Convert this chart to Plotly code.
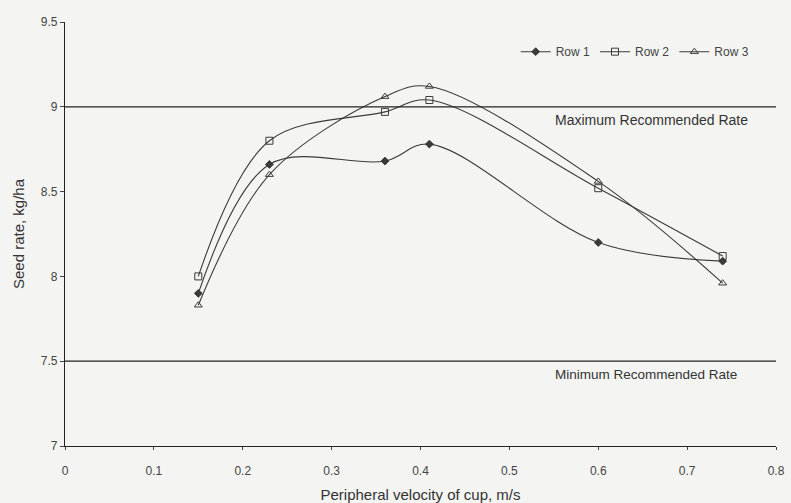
import plotly.graph_objects as go

x_row1 = [0.15, 0.23, 0.36, 0.41, 0.60, 0.74]
y_row1 = [7.90, 8.66, 8.68, 8.78, 8.20, 8.09]
x_row2 = [0.15, 0.23, 0.36, 0.41, 0.60, 0.74]
y_row2 = [8.00, 8.80, 8.97, 9.04, 8.52, 8.12]
x_row3 = [0.15, 0.23, 0.36, 0.41, 0.60, 0.74]
y_row3 = [7.83, 8.60, 9.06, 9.12, 8.56, 7.96]
series_names = ["Row 1", "Row 2", "Row 3"]
max_rate = 9.0
min_rate = 7.5
x_ticks = [0, 0.1, 0.2, 0.3, 0.4, 0.5, 0.6, 0.7, 0.8]
y_ticks = [7, 7.5, 8, 8.5, 9, 9.5]

bg = "#f4f4f2"
ink = "#3a3a3a"
font = "Liberation Sans, Arial, sans-serif"

fig = go.Figure()
styles = [
    dict(symbol="diamond", size=6, color=ink, line=dict(color=ink, width=1)),
    dict(symbol="square-open", size=7, color=ink, line=dict(color=ink, width=1)),
    dict(symbol="triangle-up-open", size=7, color=ink, line=dict(color=ink, width=1)),
]
for name, xs, ys, mk in zip(series_names, [x_row1, x_row2, x_row3],
                            [y_row1, y_row2, y_row3], styles):
    fig.add_trace(go.Scatter(
        x=xs, y=ys, name=name, mode="lines+markers",
        line=dict(color=ink, width=1.1, shape="spline", smoothing=1.0),
        marker=mk,
    ))

fig.add_hline(y=max_rate, line=dict(color="#222", width=1.2))
fig.add_hline(y=min_rate, line=dict(color="#222", width=1.2))
fig.add_annotation(x=0.549, y=max_rate, yshift=-13, xanchor="left", yanchor="middle",
                   text="Maximum Recommended Rate", showarrow=False,
                   font=dict(family=font, size=14, color="#333"))
fig.add_annotation(x=0.549, y=min_rate, yshift=-13, xanchor="left", yanchor="middle",
                   text="Minimum Recommended Rate", showarrow=False,
                   font=dict(family=font, size=13.5, color="#333"))

fig.update_layout(
    width=791, height=503,
    margin=dict(l=65, r=15, t=22, b=57),
    paper_bgcolor=bg, plot_bgcolor=bg,
    font=dict(family=font, size=12, color="#444"),
    showlegend=True,
    legend=dict(orientation="h", x=0.97, xanchor="right", y=0.93, yanchor="middle",
                bgcolor="rgba(0,0,0,0)", font=dict(size=12, color="#444"),
                itemwidth=30, tracegroupgap=0),
    xaxis=dict(range=[0, 0.8], tickvals=x_ticks, ticktext=[f"{v:g}" for v in x_ticks],
               showgrid=False, zeroline=False, showline=True, linecolor="#222", linewidth=1.2,
               ticks="outside", ticklen=3, tickcolor="#444", ticklabelstandoff=10,
               tickfont=dict(size=12, color="#444"), automargin=False,
               title=dict(text="Peripheral velocity of cup, m/s", font=dict(size=15, color="#333"),
                          standoff=12)),
    yaxis=dict(range=[7, 9.5], tickvals=y_ticks, ticktext=[f"{v:g}" for v in y_ticks],
               showgrid=False, zeroline=False, showline=True, linecolor="#222", linewidth=1.2,
               ticks="outside", ticklen=4, tickcolor="#444", automargin=False,
               tickfont=dict(size=12, color="#444"),
               title=dict(text="Seed rate, kg/ha", font=dict(size=15, color="#333"), standoff=12)),
)

fig.write_html("out.html")
